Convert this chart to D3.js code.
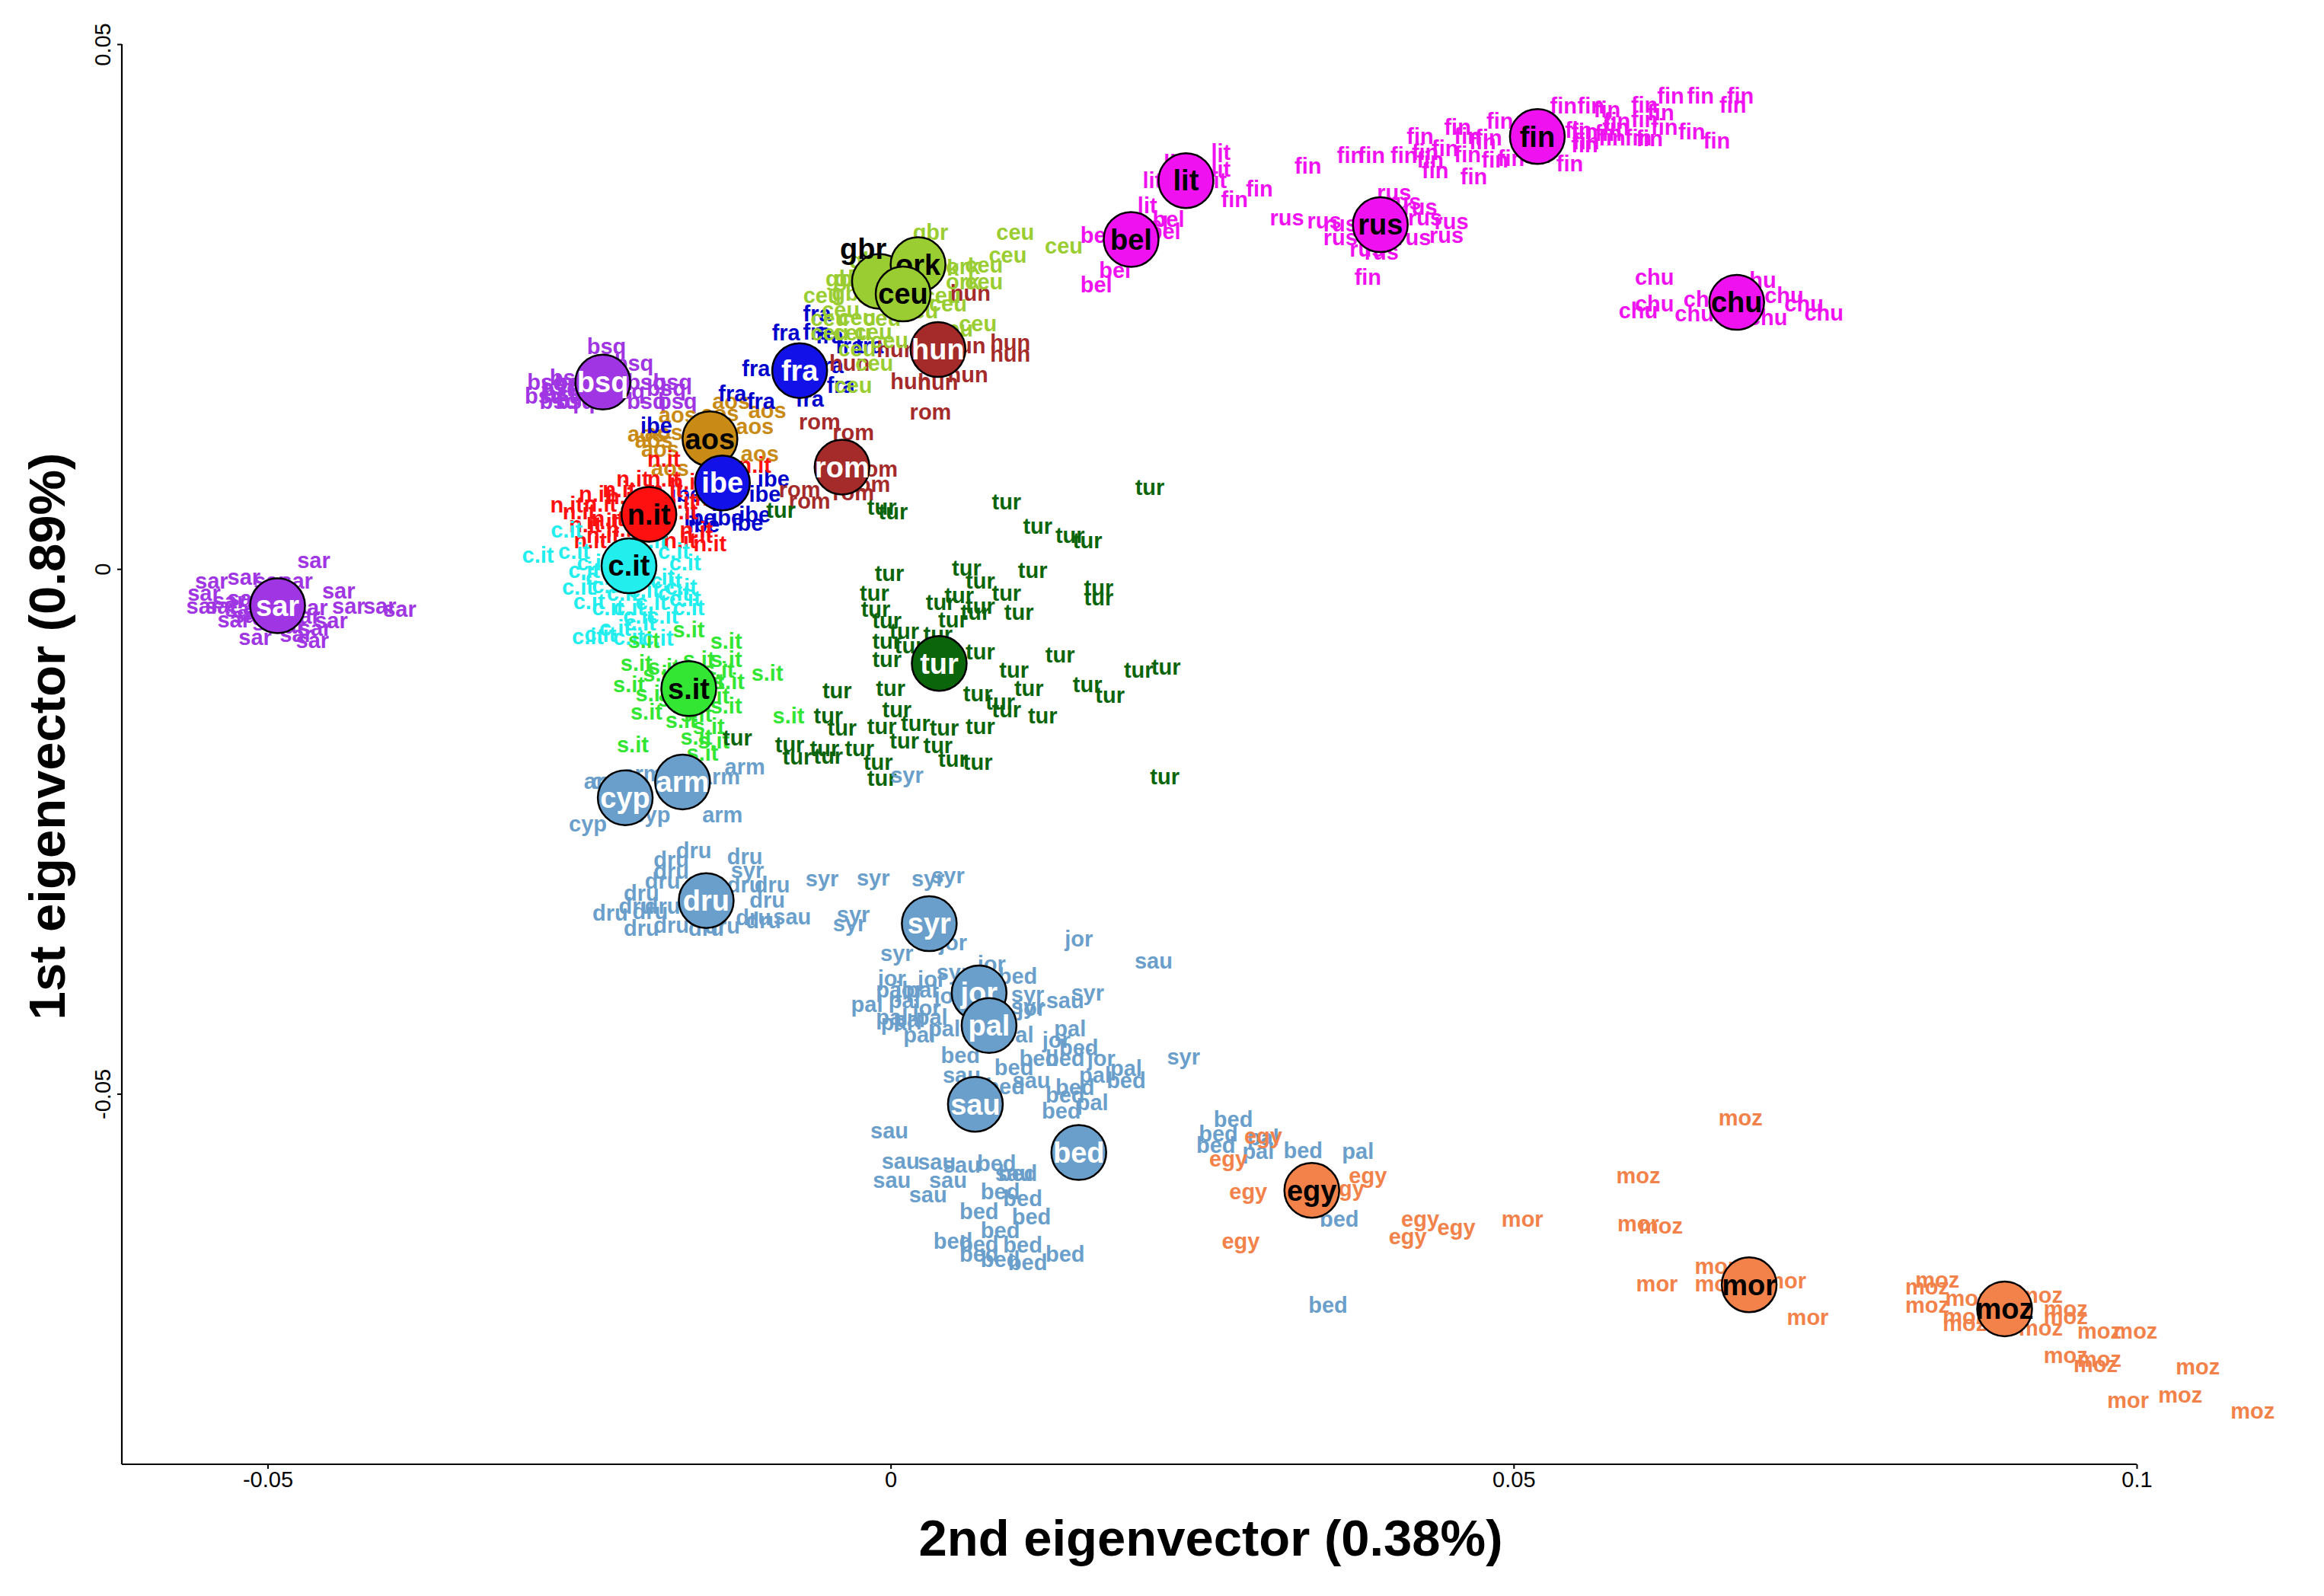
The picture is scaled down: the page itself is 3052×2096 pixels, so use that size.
<!DOCTYPE html>
<html>
<head>
<meta charset="utf-8">
<script src="https://cdn.jsdelivr.net/npm/d3@7"></script>
<style>
  body { margin: 0; background: #ffffff; }
  text { font-family: "Liberation Sans", Arial, sans-serif; }
</style>
</head>
<body>
<script>
// ---- data: individual samples, [2nd eigenvector, 1st eigenvector] ----
const sarPts = [[-0.0463,0.0008],[-0.0545,-0.0011],[-0.0519,-0.0008],[-0.0498,-0.0011],[-0.0477,-0.0011],[-0.0551,-0.0023],[-0.0552,-0.0035],[-0.0537,-0.0035],[-0.0521,-0.0038],[-0.0507,-0.0041],[-0.0443,-0.0021],[-0.0435,-0.0035],[-0.0410,-0.0035],[-0.0394,-0.0038],[-0.0449,-0.0049],[-0.0462,-0.0056],[-0.0510,-0.0065],[-0.0464,-0.0068],[-0.0527,-0.0048],[-0.0471,-0.0045],[-0.0489,-0.0048],[-0.0531,-0.0030],[-0.0519,-0.0028],[-0.0504,-0.0030],[-0.0515,-0.0044],[-0.0499,-0.0051],[-0.0483,-0.0054],[-0.0477,-0.0062],[-0.0465,-0.0037]];
const bsqPts = [[-0.0228,0.0212],[-0.0206,0.0196],[-0.0276,0.0178],[-0.0258,0.0182],[-0.0244,0.0172],[-0.0175,0.0178],[-0.0196,0.0178],[-0.0278,0.0165],[-0.0266,0.0160],[-0.0253,0.0160],[-0.0196,0.0160],[-0.0171,0.0160],[-0.0180,0.0172],[-0.0213,0.0169],[-0.0265,0.0172],[-0.0254,0.0178],[-0.0242,0.0167],[-0.0263,0.0167]];
const aosPts = [[-0.0128,0.0160],[-0.0099,0.0151],[-0.0171,0.0147],[-0.0137,0.0148],[-0.0196,0.0129],[-0.0185,0.0114],[-0.0109,0.0136],[-0.0105,0.0110],[-0.0177,0.0096],[-0.0182,0.0130],[-0.0190,0.0123]];
const ibePts = [[-0.0188,0.0137],[-0.0164,0.0071],[-0.0094,0.0086],[-0.0101,0.0071],[-0.0153,0.0049],[-0.0131,0.0049],[-0.0115,0.0044],[-0.0150,0.0042],[-0.0109,0.0052]];
const nitPts = [[-0.0207,0.0086],[-0.0182,0.0086],[-0.0237,0.0071],[-0.0260,0.0061],[-0.0250,0.0055],[-0.0245,0.0042],[-0.0231,0.0045],[-0.0218,0.0076],[-0.0169,0.0065],[-0.0156,0.0032],[-0.0145,0.0024],[-0.0169,0.0027],[-0.0231,0.0032],[-0.0241,0.0027],[-0.0182,0.0105],[-0.0109,0.0099],[-0.0164,0.0083],[-0.0233,0.0062],[-0.0215,0.0069],[-0.0204,0.0055],[-0.0227,0.0048],[-0.0215,0.0038],[-0.0180,0.0076],[-0.0168,0.0055],[-0.0156,0.0037],[-0.0144,0.0068]];
const citPts = [[-0.0283,0.0013],[-0.0260,0.0037],[-0.0254,0.0017],[-0.0246,-0.0001],[-0.0251,-0.0017],[-0.0242,-0.0031],[-0.0227,-0.0037],[-0.0210,-0.0037],[-0.0192,-0.0032],[-0.0174,-0.0023],[-0.0165,0.0006],[-0.0174,0.0017],[-0.0162,-0.0037],[-0.0201,-0.0051],[-0.0221,-0.0056],[-0.0233,-0.0062],[-0.0186,-0.0008],[-0.0232,-0.0008],[-0.0192,0.0027],[-0.0243,-0.0064],[-0.0187,-0.0066],[-0.0202,-0.0045],[-0.0165,-0.0028],[-0.0239,0.0006],[-0.0227,-0.0016],[-0.0215,-0.0023],[-0.0198,-0.0020],[-0.0180,-0.0011],[-0.0168,-0.0017],[-0.0183,-0.0045],[-0.0210,-0.0065]];
const sitPts = [[-0.0198,-0.0068],[-0.0162,-0.0058],[-0.0132,-0.0069],[-0.0204,-0.0090],[-0.0182,-0.0093],[-0.0154,-0.0086],[-0.0138,-0.0096],[-0.0210,-0.0110],[-0.0192,-0.0119],[-0.0142,-0.0121],[-0.0130,-0.0107],[-0.0196,-0.0136],[-0.0156,-0.0138],[-0.0132,-0.0130],[-0.0099,-0.0099],[-0.0082,-0.0140],[-0.0207,-0.0167],[-0.0156,-0.0160],[-0.0146,-0.0150],[-0.0151,-0.0175],[-0.0186,-0.0100],[-0.0174,-0.0124],[-0.0132,-0.0086],[-0.0146,-0.0107],[-0.0168,-0.0144],[-0.0142,-0.0164]];
const fraPts = [[-0.0059,0.0243],[-0.0084,0.0225],[-0.0059,0.0226],[-0.0049,0.0222],[-0.0033,0.0213],[-0.0017,0.0213],[-0.0108,0.0191],[-0.0040,0.0175],[-0.0065,0.0162],[-0.0127,0.0167],[-0.0104,0.0160],[-0.0049,0.0194]];
const romPts = [[0.0032,0.0150],[-0.0057,0.0140],[-0.0030,0.0130],[-0.0011,0.0095],[-0.0030,0.0073],[-0.0065,0.0065],[-0.0073,0.0076],[-0.0017,0.0081]];
const hunPts = [[0.0064,0.0263],[0.0096,0.0216],[0.0096,0.0205],[0.0005,0.0209],[-0.0033,0.0196],[0.0016,0.0179],[0.0038,0.0178],[0.0062,0.0185],[0.0060,0.0213]];
const gbrPts = [[0.0032,0.0321],[-0.0038,0.0277],[-0.0019,0.0294],[-0.0033,0.0263],[-0.0031,0.0277]];
const orkPts = [[0.0041,0.0287],[0.0058,0.0274],[-0.0013,0.0260],[0.0058,0.0288]];
const ceuPts = [[0.0100,0.0321],[0.0094,0.0299],[0.0075,0.0290],[0.0075,0.0274],[0.0070,0.0234],[-0.0055,0.0261],[-0.0040,0.0247],[-0.0027,0.0240],[-0.0014,0.0226],[-0.0027,0.0210],[-0.0030,0.0175],[0.0041,0.0261],[0.0051,0.0229],[0.0139,0.0308],[-0.0049,0.0239],[-0.0013,0.0267],[-0.0049,0.0225],[-0.0031,0.0225],[-0.0007,0.0239],[-0.0001,0.0218],[0.0023,0.0246],[0.0046,0.0253],[-0.0013,0.0196]];
const turPts = [[0.0208,0.0078],[0.0093,0.0064],[0.0002,0.0055],[-0.0007,0.0059],[0.0118,0.0041],[0.0144,0.0032],[0.0158,0.0027],[-0.0001,-0.0004],[0.0061,0.0001],[0.0114,-0.0001],[-0.0013,-0.0023],[0.0072,-0.0011],[0.0055,-0.0025],[0.0093,-0.0023],[0.0167,-0.0018],[0.0167,-0.0027],[-0.0012,-0.0038],[0.0040,-0.0032],[0.0068,-0.0041],[0.0103,-0.0041],[0.0050,-0.0048],[-0.0003,-0.0049],[0.0011,-0.0059],[0.0038,-0.0062],[-0.0003,-0.0069],[0.0015,-0.0073],[0.0072,-0.0079],[-0.0003,-0.0086],[0.0136,-0.0082],[0.0099,-0.0096],[0.0199,-0.0096],[0.0221,-0.0093],[-0.0043,-0.0116],[0.0000,-0.0114],[0.0070,-0.0119],[0.0088,-0.0127],[0.0111,-0.0114],[0.0158,-0.0110],[0.0176,-0.0120],[0.0093,-0.0134],[0.0122,-0.0140],[-0.0050,-0.0140],[0.0005,-0.0134],[-0.0039,-0.0151],[-0.0007,-0.0150],[0.0020,-0.0147],[0.0043,-0.0151],[0.0072,-0.0150],[-0.0081,-0.0167],[-0.0053,-0.0171],[-0.0025,-0.0171],[0.0011,-0.0164],[0.0038,-0.0168],[-0.0075,-0.0179],[-0.0050,-0.0178],[-0.0010,-0.0184],[0.0050,-0.0181],[0.0070,-0.0184],[-0.0007,-0.0199],[0.0220,-0.0198],[0.0072,-0.0035],[-0.0088,0.0056],[-0.0123,-0.0161]];
const belPts = [[0.0165,0.0318],[0.0180,0.0285],[0.0165,0.0271],[0.0223,0.0333],[0.0220,0.0322],[0.0210,0.0328]];
const litPts = [[0.0265,0.0397],[0.0265,0.0381],[0.0262,0.0370],[0.0210,0.0370],[0.0206,0.0346],[0.0227,0.0387]];
const rusPts = [[0.0318,0.0335],[0.0348,0.0332],[0.0361,0.0329],[0.0404,0.0359],[0.0412,0.0350],[0.0425,0.0345],[0.0429,0.0335],[0.0450,0.0331],[0.0361,0.0316],[0.0382,0.0305],[0.0394,0.0302],[0.0420,0.0316],[0.0446,0.0318]];
const finPts = [[0.0335,0.0384],[0.0369,0.0394],[0.0386,0.0394],[0.0412,0.0394],[0.0429,0.0397],[0.0437,0.0380],[0.0468,0.0374],[0.0485,0.0390],[0.0545,0.0386],[0.0425,0.0412],[0.0455,0.0421],[0.0463,0.0412],[0.0480,0.0411],[0.0489,0.0427],[0.0540,0.0441],[0.0562,0.0441],[0.0575,0.0438],[0.0605,0.0442],[0.0626,0.0451],[0.0650,0.0451],[0.0682,0.0451],[0.0676,0.0442],[0.0618,0.0435],[0.0605,0.0428],[0.0583,0.0427],[0.0557,0.0417],[0.0579,0.0411],[0.0600,0.0411],[0.0621,0.0421],[0.0643,0.0417],[0.0663,0.0408],[0.0557,0.0404],[0.0609,0.0410],[0.0498,0.0391],[0.0519,0.0394],[0.0383,0.0278],[0.0296,0.0362],[0.0276,0.0352],[0.0552,0.0418],[0.0576,0.0415],[0.0558,0.0407],[0.0582,0.0421],[0.0445,0.0401],[0.0463,0.0395],[0.0475,0.0407],[0.0433,0.0390]];
const chuPts = [[0.0613,0.0278],[0.0613,0.0253],[0.0600,0.0246],[0.0645,0.0243],[0.0652,0.0257],[0.0695,0.0275],[0.0717,0.0261],[0.0733,0.0253],[0.0749,0.0244],[0.0704,0.0240]];
const cypPts = [[-0.0243,-0.0243],[-0.0225,-0.0202],[-0.0192,-0.0234]];
const armPts = [[-0.0199,-0.0195],[-0.0137,-0.0198],[-0.0117,-0.0188],[-0.0135,-0.0234],[-0.0230,-0.0202]];
const druPts = [[-0.0158,-0.0268],[-0.0176,-0.0277],[-0.0117,-0.0274],[-0.0176,-0.0288],[-0.0183,-0.0297],[-0.0117,-0.0301],[-0.0095,-0.0301],[-0.0200,-0.0309],[-0.0204,-0.0321],[-0.0183,-0.0321],[-0.0099,-0.0315],[-0.0110,-0.0332],[-0.0225,-0.0328],[-0.0193,-0.0326],[-0.0200,-0.0342],[-0.0176,-0.0339],[-0.0148,-0.0342],[-0.0135,-0.0340],[-0.0102,-0.0335]];
const syrPts = [[-0.0055,-0.0295],[-0.0014,-0.0294],[0.0030,-0.0295],[0.0046,-0.0292],[-0.0030,-0.0329],[-0.0033,-0.0338],[0.0005,-0.0366],[0.0050,-0.0384],[0.0110,-0.0405],[0.0158,-0.0404],[0.0235,-0.0465],[0.0013,-0.0196],[0.0110,-0.0417],[-0.0115,-0.0287]];
const jorPts = [[0.0151,-0.0352],[0.0050,-0.0356],[0.0081,-0.0376],[0.0001,-0.0390],[0.0033,-0.0391],[0.0169,-0.0466],[0.0133,-0.0449],[0.0113,-0.0418],[0.0015,-0.0401],[0.0029,-0.0418],[0.0046,-0.0407]];
const palPts = [[-0.0019,-0.0415],[0.0001,-0.0401],[0.0025,-0.0401],[0.0001,-0.0427],[0.0015,-0.0429],[0.0033,-0.0427],[0.0023,-0.0444],[0.0043,-0.0438],[0.0144,-0.0438],[0.0164,-0.0482],[0.0189,-0.0476],[0.0162,-0.0508],[0.0102,-0.0444],[0.0299,-0.0542],[0.0295,-0.0555],[0.0375,-0.0555],[0.0011,-0.0411],[0.0005,-0.0432]];
const sauPts = [[0.0211,-0.0373],[-0.0079,-0.0331],[0.0140,-0.0411],[-0.0001,-0.0535],[0.0008,-0.0564],[0.0037,-0.0565],[0.0057,-0.0568],[0.0099,-0.0576],[0.0001,-0.0582],[0.0046,-0.0582],[0.0030,-0.0596],[0.0057,-0.0482],[0.0113,-0.0487]];
const bedPts = [[0.0102,-0.0388],[0.0056,-0.0463],[0.0099,-0.0475],[0.0119,-0.0466],[0.0140,-0.0466],[0.0151,-0.0456],[0.0092,-0.0493],[0.0148,-0.0494],[0.0189,-0.0487],[0.0140,-0.0501],[0.0137,-0.0516],[0.0085,-0.0566],[0.0102,-0.0576],[0.0088,-0.0593],[0.0106,-0.0600],[0.0071,-0.0612],[0.0113,-0.0617],[0.0088,-0.0630],[0.0050,-0.0640],[0.0071,-0.0643],[0.0106,-0.0644],[0.0071,-0.0653],[0.0088,-0.0658],[0.0110,-0.0661],[0.0140,-0.0653],[0.0275,-0.0524],[0.0263,-0.0538],[0.0261,-0.0549],[0.0331,-0.0554],[0.0360,-0.0619],[0.0351,-0.0701]];
const egyPts = [[0.0271,-0.0562],[0.0287,-0.0593],[0.0383,-0.0578],[0.0365,-0.0590],[0.0425,-0.0619],[0.0454,-0.0627],[0.0415,-0.0636],[0.0281,-0.0640],[0.0299,-0.0540]];
const morPts = [[0.0507,-0.0619],[0.0600,-0.0624],[0.0615,-0.0681],[0.0662,-0.0664],[0.0662,-0.0681],[0.0718,-0.0678],[0.0736,-0.0713],[0.0993,-0.0792]];
const mozPts = [[0.0682,-0.0523],[0.0600,-0.0578],[0.0618,-0.0626],[0.0840,-0.0677],[0.0832,-0.0684],[0.0832,-0.0701],[0.0864,-0.0695],[0.0862,-0.0712],[0.0862,-0.0719],[0.0923,-0.0692],[0.0943,-0.0705],[0.0943,-0.0712],[0.0923,-0.0723],[0.0970,-0.0726],[0.0999,-0.0726],[0.0943,-0.0749],[0.0970,-0.0753],[0.0967,-0.0758],[0.1049,-0.0760],[0.1035,-0.0787],[0.1093,-0.0802]];

// ---- data: population means, drawn as big circles ----
const popNames = ['sar','bsq','aos','ibe','n.it','c.it','s.it','fra','rom','hun','gbr','ork','ceu','tur','bel','lit','rus','fin','chu','cyp','arm','dru','syr','jor','pal','sau','bed','egy','mor','moz'];
const meanX = [-0.0492,-0.0231,-0.0145,-0.0135,-0.0194,-0.0210,-0.0162,-0.0073,-0.0039,0.0038,-0.0009,0.0022,0.0010,0.0039,0.0193,0.0237,0.0393,0.0519,0.0679,-0.0213,-0.0167,-0.0148,0.0031,0.0071,0.0079,0.0068,0.0151,0.0338,0.0689,0.0894];
const meanY = [-0.0035,0.0178,0.0124,0.0082,0.0052,0.0003,-0.0114,0.0189,0.0097,0.0209,0.0274,0.0290,0.0262,-0.0090,0.0314,0.0370,0.0328,0.0412,0.0254,-0.0218,-0.0203,-0.0316,-0.0338,-0.0404,-0.0435,-0.0510,-0.0556,-0.0592,-0.0682,-0.0705];
// the gbr mean label sits off its circle in the original
const gbrLabelAt = [-0.0022, 0.0305];

const popPoints = [sarPts,bsqPts,aosPts,ibePts,nitPts,citPts,sitPts,fraPts,romPts,hunPts,gbrPts,orkPts,ceuPts,turPts,belPts,litPts,rusPts,finPts,chuPts,cypPts,armPts,druPts,syrPts,jorPts,palPts,sauPts,bedPts,egyPts,morPts,mozPts];

const xTicks = [-0.05, 0, 0.05, 0.1];
const yTicks = [-0.05, 0, 0.05];
const xTitle = '2nd eigenvector (0.38%)';
const yTitle = '1st eigenvector (0.89%)';

// ---- styles ----
const colorOf = {
    'sar': '#9f35e3', 'bsq': '#9f35e3',
    'aos': '#c98b16',
    'ibe': '#1212e8', 'fra': '#1212e8',
    'n.it': '#ff1010', 'c.it': '#22eeee', 's.it': '#33e633',
    'rom': '#a52a2a', 'hun': '#a52a2a',
    'gbr': '#9acd32', 'ork': '#9acd32', 'ceu': '#9acd32',
    'tur': '#0b650b',
    'bel': '#f011f0', 'lit': '#f011f0', 'rus': '#f011f0', 'fin': '#f011f0', 'chu': '#f011f0',
    'cyp': '#6b9fcb', 'arm': '#6b9fcb', 'dru': '#6b9fcb', 'syr': '#6b9fcb', 'jor': '#6b9fcb',
    'pal': '#6b9fcb', 'sau': '#6b9fcb', 'bed': '#6b9fcb',
    'egy': '#f2824a', 'mor': '#f2824a', 'moz': '#f2824a'
};
const labelTextColor = {'ibe':'#0000cd','fra':'#0000cd'};
const whiteLabel = new Set(['sar','bsq','ibe','fra','rom','hun','tur','cyp','arm','dru','syr','jor','pal','sau','bed']);

const W = 3052, H = 2096;
const plot = {left: 160, right: 2806, top: 58, bottom: 1923};
const radius = 36;

const svg = d3.select('body').append('svg')
    .attr('width', W)
    .attr('height', H)
    .attr('viewBox', `0 0 ${W} ${H}`);

const x = d3.scaleLinear().domain([-0.0617, 0.1]).range([plot.left, plot.right]);
const y = d3.scaleLinear().domain([-0.0853, 0.05]).range([plot.bottom, plot.top]);

// axes (L shaped frame)
const xAxis = svg.append('g')
    .attr('transform', `translate(0,${plot.bottom})`)
    .call(d3.axisBottom(x).tickValues(xTicks).tickFormat(d => d === 0 ? '0' : String(d)).tickSize(6).tickPadding(3));
xAxis.select('.domain').remove();
xAxis.selectAll('line').attr('stroke', '#000').attr('stroke-width', 2);
xAxis.selectAll('text').attr('font-size', 29).attr('fill', '#000')
    .style('font-family', '"Liberation Sans", Arial, sans-serif');

const yAxis = svg.append('g')
    .attr('transform', `translate(${plot.left},0)`)
    .call(d3.axisLeft(y).tickValues(yTicks).tickFormat(d => d === 0 ? '0' : String(d)).tickSize(6));
yAxis.select('.domain').remove();
yAxis.selectAll('line').attr('stroke', '#000').attr('stroke-width', 2);
yAxis.selectAll('text')
    .attr('font-size', 29).attr('fill', '#000')
    .attr('transform', 'rotate(-90)')
    .attr('x', 0).attr('y', -15).attr('dy', 0)
    .attr('text-anchor', 'middle')
    .style('font-family', '"Liberation Sans", Arial, sans-serif');

svg.append('line')
    .attr('x1', plot.left).attr('x2', plot.left)
    .attr('y1', y(0.05)).attr('y2', plot.bottom)
    .attr('stroke', '#000').attr('stroke-width', 2.2);
svg.append('line')
    .attr('x1', plot.left).attr('x2', x(0.1))
    .attr('y1', plot.bottom).attr('y2', plot.bottom)
    .attr('stroke', '#000').attr('stroke-width', 2.2);

// axis titles
svg.append('text')
    .attr('x', 1590).attr('y', 2043)
    .attr('text-anchor', 'middle')
    .attr('font-size', 67).attr('font-weight', 'bold')
    .text(xTitle);
svg.append('text')
    .attr('transform', `translate(85,967) rotate(-90)`)
    .attr('text-anchor', 'middle')
    .attr('font-size', 67).attr('font-weight', 'bold')
    .text(yTitle);

// individual sample labels
const samples = [];
popNames.forEach((name, i) => {
    popPoints[i].forEach(p => samples.push({name, x: p[0], y: p[1]}));
});

svg.append('g').attr('class', 'samples')
    .selectAll('text')
    .data(samples)
    .enter()
    .append('text')
    .attr('x', d => x(d.x))
    .attr('y', d => y(d.y))
    .attr('dy', '0.35em')
    .attr('text-anchor', 'middle')
    .attr('font-size', 29)
    .attr('font-weight', 'bold')
    .attr('fill', d => labelTextColor[d.name] || colorOf[d.name])
    .text(d => d.name);

// population means
const means = popNames.map((name, i) => ({name, x: meanX[i], y: meanY[i]}));
const meanG = svg.append('g').attr('class', 'means')
    .selectAll('g')
    .data(means)
    .enter()
    .append('g');

meanG.append('circle')
    .attr('cx', d => x(d.x))
    .attr('cy', d => y(d.y))
    .attr('r', radius)
    .attr('fill', d => colorOf[d.name])
    .attr('stroke', '#000')
    .attr('stroke-width', 2.5);

meanG.append('text')
    .attr('x', d => d.name === 'gbr' ? x(gbrLabelAt[0]) : x(d.x))
    .attr('y', d => d.name === 'gbr' ? y(gbrLabelAt[1]) : y(d.y))
    .attr('dy', '0.35em')
    .attr('text-anchor', 'middle')
    .attr('font-size', 38)
    .attr('font-weight', 'bold')
    .attr('fill', d => whiteLabel.has(d.name) ? '#ffffff' : '#000000')
    .text(d => d.name);
</script>
</body>
</html>
